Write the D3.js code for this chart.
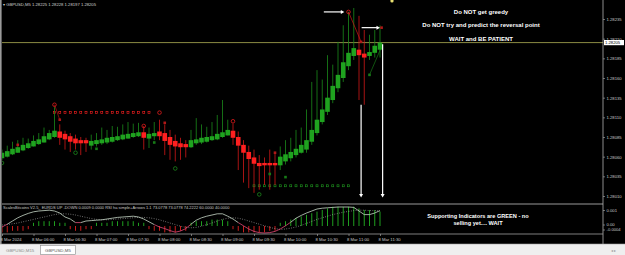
<!DOCTYPE html>
<html><head><meta charset="utf-8">
<script src="https://cdn.jsdelivr.net/npm/d3@7"></script>
<style>
html,body{margin:0;padding:0;background:#000;overflow:hidden;}
svg{display:block;}
text{font-family:"Liberation Sans",Arial,sans-serif;}
</style></head><body>
<svg id="c" width="625" height="255"></svg>
<script>
// ---------- DATA ----------
const symbolHeader = "GBPUSD,M5  1.28225 1.28228 1.28197 1.28205";
const times = ("05:30 05:35 05:40 05:45 05:50 05:55 " +
 "06:00 06:05 06:10 06:15 06:20 06:25 06:30 06:35 06:40 06:45 06:50 06:55 " +
 "07:00 07:05 07:10 07:15 07:20 07:25 07:30 07:35 07:40 07:45 07:50 07:55 " +
 "08:00 08:05 08:10 08:15 08:20 08:25 08:30 08:35 08:40 08:45 08:50 08:55 " +
 "09:00 09:05 09:10 09:15 09:20 09:25 09:30 09:35 09:40 09:45 09:50 09:55 " +
 "10:00 10:05 10:10 10:15 10:20 10:25 10:30 10:35 10:40 10:45 10:50 10:55 " +
 "11:00 11:05 11:10 11:15 11:20 11:25 11:30").split(" ");

const open = [1.28058,1.28060,1.28063,1.28065,1.28068,1.28071,1.28073,1.28076,1.28078,1.28082,1.28085,
 1.28092,1.28089,1.28086,1.28083,1.28081,1.28081,
 1.28074,1.28076,1.28077,1.28078,1.28079,1.28081,1.28082,1.28083,1.28085,1.28086,
 1.28091,1.28083,1.28086,
 1.28092,1.28090,1.28085,1.28080,1.28077,1.28076,
 1.28072,1.28077,1.28078,1.28079,1.28081,1.28082,1.28085,1.28087,
 1.28093,1.28085,1.28075,1.28066,1.28059,1.28052,1.28052,1.28052,1.28052,
 1.28049,1.28054,1.28058,1.28062,1.28065,
 1.28069,1.28079,1.28090,1.28104,1.28117,1.28132,1.28147,1.28160,1.28175,1.28188,
 1.28196,1.28191,1.28188,1.28192,1.28196];
const high = [1.28069,1.28074,1.28079,1.28081,1.28084,1.28083,1.28087,1.28090,1.28097,1.28094,1.28123,
 1.28101,1.28093,1.28090,1.28088,1.28085,1.28084,
 1.28088,1.28090,1.28097,1.28094,1.28099,1.28098,1.28101,1.28104,1.28102,1.28103,
 1.28099,1.28097,1.28104,
 1.28107,1.28101,1.28094,1.28088,1.28084,1.28081,
 1.28094,1.28109,1.28101,1.28098,1.28104,1.28113,1.28132,1.28107,
 1.28102,1.28092,1.28081,1.28074,1.28069,1.28062,1.28059,1.28069,1.28066,
 1.28073,1.28081,1.28084,1.28094,1.28097,
 1.28120,1.28155,1.28170,1.28158,1.28189,1.28177,1.28206,1.28227,1.28244,1.28249,
 1.28239,1.28221,1.28215,1.28221,1.28227];
const low = [1.28056,1.28059,1.28062,1.28065,1.28067,1.28070,1.28073,1.28075,1.28078,1.28081,1.28084,
 1.28075,1.28069,1.28066,1.28069,1.28062,1.28066,
 1.28069,1.28073,1.28075,1.28076,1.28078,1.28080,1.28081,1.28083,1.28084,1.28085,
 1.28069,1.28071,1.28081,
 1.28081,1.28062,1.28056,1.28054,1.28056,1.28059,
 1.28071,1.28075,1.28076,1.28078,1.28080,1.28081,1.28084,1.28087,
 1.28075,1.28043,1.28027,1.28020,1.28014,1.28018,1.28024,1.28018,1.28024,
 1.28043,1.28050,1.28054,1.28059,1.28064,
 1.28065,1.28075,1.28087,1.28101,1.28113,1.28128,1.28142,1.28155,1.28170,1.28183,
 1.28132,1.28126,1.28183,1.28186,1.28186];
const close = [1.28065,1.28067,1.28070,1.28072,1.28075,1.28077,1.28080,1.28082,1.28086,1.28090,1.28093,
 1.28084,1.28082,1.28079,1.28077,1.28077,1.28077,
 1.28080,1.28081,1.28082,1.28084,1.28085,1.28086,1.28088,1.28089,1.28090,1.28091,
 1.28084,1.28089,1.28090,
 1.28086,1.28080,1.28075,1.28073,1.28072,1.28072,
 1.28081,1.28082,1.28084,1.28085,1.28086,1.28089,1.28091,1.28094,
 1.28084,1.28074,1.28065,1.28057,1.28051,1.28048,1.28049,1.28049,1.28049,
 1.28060,1.28063,1.28066,1.28070,1.28075,
 1.28081,1.28094,1.28107,1.28120,1.28135,1.28150,1.28164,1.28180,1.28192,1.28198,
 1.28189,1.28186,1.28193,1.28201,1.28205];

const priceTicks = [1.28235,1.28210,1.28185,1.28160,1.28135,1.28110,1.28085,1.28060,1.28035,1.28010];
const currentPrice = 1.28205;
const timeTickIdx = [0,6,12,18,24,30,36,42,48,54,60,66,72];
const timeTickLabels = ["8 Mar 2024","8 Mar 06:00","8 Mar 06:30","8 Mar 07:00","8 Mar 07:30","8 Mar 08:00",
 "8 Mar 08:30","8 Mar 09:00","8 Mar 09:30","8 Mar 10:00","8 Mar 10:30","8 Mar 11:00","8 Mar 11:30"];

// swing markers
const redCircleIdx = [10,27,30,44,66];
const redCirclePrice = [1.28126,1.28099,1.28116,1.28105,1.28244];
const greenCircleIdx = [0,14,33,49];
const greenCirclePrice = [1.28052,1.28065,1.28045,1.28012];
const redMarkIdx = [3,11,31,52,68.4,72.3];
const redMarkPrice = [1.28075,1.28107,1.28103,1.28065,1.28206,1.28224];
const greenMarkIdx = [18,29,51,54,70];
const greenMarkPrice = [1.28070,1.28078,1.28038,1.28034,1.28164];
const resistLevel = 1.28116, resistFrom = 10, resistTo = 28;
const supportLevel = 1.28023, supportFrom = 48, supportTo = 66;

// annotation arrows (bar index / price)
const hArrowFromIdx = [61.3, 68.5], hArrowToIdx = [65.2, 72.0], hArrowPrice = [1.28244, 1.28224];
const vArrowIdx = [68.4, 72.5], vArrowFromPrice = [1.28126, 1.28203], vArrowToPrice = [1.28008, 1.28008];

const notesMain = ["Do NOT get greedy", "Do NOT try and predict the reversal point", "WAIT and BE PATIENT"];
const notesSub = ["Supporting Indicators are GREEN - no", "selling yet.... WAIT"];
const subHeader = "ScalesBitcoins V2.5_ EURDS UP -DOWN  0.0009 0.0000   RSI ha simple+Arrows 1.1 73.0778 73.0778 74.2222 60.0000 40.0000";

// sub-window indicator
const hist = [-0.0004,-0.0004,-0.0003,-0.0003,-0.0003,-0.0002,
 0.0002,0.0003,0.0003,0.0003,0.0003,0.0002,0.0002,
 -0.0002,-0.0003,-0.0003,-0.0002,-0.0002,
 0.0002,0.0002,0.0002,0.0003,0.0003,0.0003,0.0003,0.0003,0.0002,0.0002,
 -0.0002,-0.0003,-0.0003,-0.0004,-0.0004,-0.0004,-0.0003,-0.0003,
 0.0002,0.0003,0.0003,0.0003,0.0004,0.0004,0.0004,0.0003,
 -0.0002,-0.0003,-0.0004,-0.0004,-0.0004,-0.0004,-0.0004,-0.0003,-0.0003,
 0.0002,0.0003,0.0004,0.0005,0.0006,
 0.0007,0.0008,0.0009,0.0010,0.0011,0.0012,0.0012,0.0012,0.0012,0.0012,
 0.0011,0.0010,0.0010,0.0010,0.0009];
const rsi = [35,42,50,58,64,69,73,75,76,77,75,70,60,55,46,46,50,51,52,53,55,57,59,60,61,62,60,55,48,41,
 35,31,26,22,25,31,42,52,58,62,65,68,68,62,55,46,38,30,24,21,20,21,24,30,38,47,57,64,70,75,
 80,82,83,84,85,85,85,84,75,66,66,70,76];
const rsiSignal = [40,41,43,45,48,51,54,57,60,63,66,68,68,67,65,62,59,56,54,53,53,54,55,56,57,58,59,59,58,56,
 53,49,45,41,37,34,33,34,37,41,45,50,54,57,58,57,54,50,46,42,38,34,31,29,30,32,35,39,44,49,
 54,58,62,66,69,72,74,76,77,77,76,76,75];
const subTicks = [0.001, 0.00, -0.0004];
const subTickLabels = ["0.001", "0.00", "-0.0004"];

// ---------- DRAW ----------
const svg = d3.select("#c");
const GREEN = "#1fa31f", RED = "#ff2020", GREENW = "#1b8a1b", REDW = "#d01818";
const plotR = 603, mainBot = 204, subTop = 205, subBot = 234;

svg.append("rect").attr("width",625).attr("height",255).attr("fill","#000");

const x = d3.scaleLinear().domain([0,72]).range([2,380]);
const y = d3.scaleLinear().domain([1.28010,1.28235]).range([196,19]);
const hy = d3.scaleLinear().domain([-0.0004,0.001]).range([232.4,210]);
const ry = d3.scaleLinear().domain([20,85]).range([233,207]);

svg.append("clipPath").attr("id","mc").append("rect").attr("x",2).attr("y",0).attr("width",plotR-2).attr("height",mainBot);
svg.append("clipPath").attr("id","sc").append("rect").attr("x",2).attr("y",subTop).attr("width",plotR-2).attr("height",subBot-subTop);

const main = svg.append("g").attr("clip-path","url(#mc)");
const sub = svg.append("g").attr("clip-path","url(#sc)");

// current price line
main.append("line").attr("x1",2).attr("x2",plotR).attr("y1",y(currentPrice)).attr("y2",y(currentPrice))
  .attr("stroke","#8c8c44").attr("stroke-width",1);

// resistance / support dotted square lines
const resIdx = d3.range(resistFrom, resistTo+1);
main.selectAll(".rs").data(resIdx).join("rect").attr("class","rs")
  .attr("x",d=>x(d)-1).attr("y",y(resistLevel)-1).attr("width",2).attr("height",2)
  .attr("fill","none").attr("stroke",RED).attr("stroke-width",0.6);
const supIdx = d3.range(supportFrom, supportTo+1);
main.selectAll(".ss").data(supIdx).join("rect").attr("class","ss")
  .attr("x",d=>x(d)-1).attr("y",y(supportLevel)-1).attr("width",2).attr("height",2)
  .attr("fill","none").attr("stroke","#1f9a1f").attr("stroke-width",0.6);

// candles
const bars = d3.range(open.length);
const up = i => close[i] >= open[i];
main.selectAll(".wick").data(bars).join("line").attr("class","wick")
  .attr("x1",i=>x(i)).attr("x2",i=>x(i)).attr("y1",i=>y(high[i])).attr("y2",i=>y(low[i]))
  .attr("stroke",i=>up(i)?GREENW:REDW).attr("stroke-width",0.8);
main.selectAll(".body").data(bars).join("rect").attr("class","body")
  .attr("x",i=>x(i)-2.3).attr("width",4.6)
  .attr("y",i=>Math.min(y(open[i]),y(close[i])))
  .attr("height",i=>Math.max(1.4,Math.abs(y(open[i])-y(close[i]))))
  .attr("fill",i=>up(i)?GREEN:RED);

// zigzag thin lines
main.append("line").attr("x1",x(10)).attr("y1",y(1.28126)).attr("x2",x(11)).attr("y2",y(1.28107)).attr("stroke",REDW).attr("stroke-width",0.6);
main.append("line").attr("x1",x(66)).attr("y1",y(1.28244)).attr("x2",x(68.4)).attr("y2",y(1.28206)).attr("stroke",REDW).attr("stroke-width",0.7);
main.append("line").attr("x1",x(70)).attr("y1",y(1.28164)).attr("x2",x(72.5)).attr("y2",y(1.28203)).attr("stroke",GREENW).attr("stroke-width",0.6);

// circles
main.selectAll(".rc").data(redCircleIdx).join("circle").attr("class","rc")
  .attr("cx",(d)=>x(d)).attr("cy",(d,k)=>y(redCirclePrice[k])).attr("r",1.8)
  .attr("fill","none").attr("stroke",RED).attr("stroke-width",0.7);
main.selectAll(".gc").data(greenCircleIdx).join("circle").attr("class","gc")
  .attr("cx",(d)=>x(d)).attr("cy",(d,k)=>y(greenCirclePrice[k])).attr("r",1.8)
  .attr("fill","none").attr("stroke","#1f9a1f").attr("stroke-width",0.7);
// small marks
main.selectAll(".rm").data(redMarkIdx).join("rect").attr("class","rm")
  .attr("x",d=>x(d)-1.3).attr("y",(d,k)=>y(redMarkPrice[k])-1.3).attr("width",2.6).attr("height",2.6)
  .attr("fill","#b01818");
main.selectAll(".gm").data(greenMarkIdx).join("rect").attr("class","gm")
  .attr("x",d=>x(d)-1.3).attr("y",(d,k)=>y(greenMarkPrice[k])-1.3).attr("width",2.6).attr("height",2.6)
  .attr("fill","#177a17");

// yellow top mark
main.append("circle").attr("cx",392).attr("cy",1).attr("r",1.6).attr("fill","#e8e070");

// white arrows
const arrowG = main.append("g").attr("stroke","#fff").attr("fill","#fff");
hArrowFromIdx.forEach((f,k)=>{
  const yy = y(hArrowPrice[k]), x1 = x(f), x2 = x(hArrowToIdx[k]);
  arrowG.append("line").attr("x1",x1).attr("x2",x2-3).attr("y1",yy).attr("y2",yy).attr("stroke-width",1.2);
  arrowG.append("path").attr("d",`M${x2},${yy} L${x2-3.5},${yy-2} L${x2-3.5},${yy+2} Z`).attr("stroke","none");
});
vArrowIdx.forEach((f,k)=>{
  const xx = x(f), y1 = y(vArrowFromPrice[k]), y2 = y(vArrowToPrice[k]);
  arrowG.append("line").attr("x1",xx).attr("x2",xx).attr("y1",y1).attr("y2",y2-3).attr("stroke-width",1.2);
  arrowG.append("path").attr("d",`M${xx},${y2} L${xx-2},${y2-3.5} L${xx+2},${y2-3.5} Z`).attr("stroke","none");
});

// main notes
const noteY = [12, 25, 39];
svg.selectAll(".nm").data(notesMain).join("text").attr("class","nm")
  .attr("x",481).attr("y",(d,k)=>noteY[k]).attr("dy","0.35em").attr("text-anchor","middle")
  .attr("font-size",6).attr("font-weight","bold").attr("fill","#fff").text(d=>d);

// header
svg.append("text").attr("x",3).attr("y",5).attr("dy","0.35em").attr("font-size",4.2).attr("fill","#d0d0d0")
  .text("\u25BE " + symbolHeader);

// ---------- sub window ----------
sub.selectAll(".hb").data(bars).join("line").attr("class","hb")
  .attr("x1",i=>x(i)).attr("x2",i=>x(i)).attr("y1",hy(0)).attr("y2",i=>hy(hist[i]))
  .attr("stroke",i=>hist[i]>=0?"#22b022":"#e02020").attr("stroke-width",0.9);

// signal dotted
sub.append("path").datum(rsiSignal)
  .attr("d",d3.line().x((d,i)=>x(i)).y(d=>ry(d)))
  .attr("fill","none").attr("stroke","#bdbdbd").attr("stroke-width",0.7).attr("stroke-dasharray","0.8,1.6");
// rsi line coloured segments
for(let i=0;i<rsi.length-1;i++){
  const low50 = rsi[i] < 48 && rsi[i+1] < 48;
  sub.append("line").attr("x1",x(i)).attr("x2",x(i+1)).attr("y1",ry(rsi[i])).attr("y2",ry(rsi[i+1]))
    .attr("stroke",low50?"#e04a78":"#c8d8c8").attr("stroke-width",0.8);
}

svg.append("text").attr("x",3).attr("y",208).attr("dy","0.35em").attr("font-size",4).attr("fill","#c8c8c8").text(subHeader);
const subNoteY = [216, 223.5];
svg.selectAll(".ns").data(notesSub).join("text").attr("class","ns")
  .attr("x",478).attr("y",(d,k)=>subNoteY[k]).attr("dy","0.35em").attr("text-anchor","middle")
  .attr("font-size",5.6).attr("font-weight","bold").attr("fill","#fff").text(d=>d);

// ---------- frames ----------
svg.append("rect").attr("x",0).attr("y",0).attr("width",1.6).attr("height",244).attr("fill","#9a9a9a");
svg.append("line").attr("x1",plotR).attr("x2",plotR).attr("y1",0).attr("y2",244).attr("stroke","#b0b0b0").attr("stroke-width",0.8);
svg.append("line").attr("x1",2).attr("x2",plotR).attr("y1",mainBot).attr("y2",mainBot).attr("stroke","#c0c0c0").attr("stroke-width",0.8);
svg.append("line").attr("x1",2).attr("x2",plotR).attr("y1",subBot).attr("y2",subBot).attr("stroke","#a0a0a0").attr("stroke-width",0.8);

// price axis
const pAxis = d3.axisRight(y).tickValues(priceTicks).tickSize(2).tickPadding(1.5).tickFormat(d3.format(".5f"));
const pa = svg.append("g").attr("transform",`translate(${plotR},0)`).call(pAxis);
pa.select(".domain").remove();
pa.selectAll("line").attr("stroke","#b0b0b0").attr("stroke-width",0.6);
pa.selectAll("text").attr("font-size",4.2).attr("fill","#c8c8c8").attr("font-family","Liberation Sans, Arial, sans-serif");

// current price box
const cpy = y(currentPrice);
svg.append("rect").attr("x",plotR+1).attr("y",cpy-2.6).attr("width",20).attr("height",5.2).attr("fill","#fff");
svg.append("text").attr("x",plotR+2).attr("y",cpy).attr("dy","0.35em").attr("font-size",4.2).attr("fill","#000")
  .text(d3.format(".5f")(currentPrice));

// sub axis
const sAxis = d3.axisRight(hy).tickValues(subTicks).tickSize(2).tickPadding(1.5).tickFormat((d,k)=>subTickLabels[k]);
const sa = svg.append("g").attr("transform",`translate(${plotR},0)`).call(sAxis);
sa.select(".domain").remove();
sa.selectAll("line").attr("stroke","#b0b0b0").attr("stroke-width",0.6);
sa.selectAll("text").attr("font-size",4.2).attr("fill","#c8c8c8").attr("font-family","Liberation Sans, Arial, sans-serif");
sa.selectAll(".tick").filter(d=>d<0).attr("transform","translate(0,230)");
sa.selectAll(".tick").filter(d=>d===0).attr("transform","translate(0,225)");

// time axis
const tAxis = d3.axisBottom(x).tickValues(timeTickIdx).tickSize(2).tickPadding(2).tickFormat((d,k)=>timeTickLabels[k]);
const ta = svg.append("g").attr("transform",`translate(0,${subBot})`).call(tAxis);
ta.select(".domain").remove();
ta.selectAll("line").attr("stroke","#b0b0b0").attr("stroke-width",0.6);
ta.selectAll("text").attr("font-size",4.2).attr("fill","#c8c8c8").attr("text-anchor","start").attr("dx",-2)
  .attr("font-family","Liberation Sans, Arial, sans-serif");

// tab bar
svg.append("rect").attr("x",0).attr("y",244).attr("width",625).attr("height",11).attr("fill","#efefef");
svg.append("line").attr("x1",0).attr("x2",625).attr("y1",244).attr("y2",244).attr("stroke","#a0a0a0").attr("stroke-width",0.6);
svg.append("text").attr("x",6).attr("y",250).attr("dy","0.35em").attr("font-size",4.4).attr("fill","#8a8a8a").text("GBPUSD,M15");
svg.append("rect").attr("x",40.5).attr("y",245.5).attr("width",35).attr("height",9).attr("fill","#fff").attr("stroke","#888").attr("stroke-width",0.6);
svg.append("text").attr("x",45).attr("y",250).attr("dy","0.35em").attr("font-size",4.4).attr("fill","#555").text("GBPUSD,M5");
svg.append("text").attr("x",611).attr("y",251).attr("dy","0.35em").attr("font-size",4).attr("fill","#999").text("\u25C2 \u25B8");
</script>
</body></html>
